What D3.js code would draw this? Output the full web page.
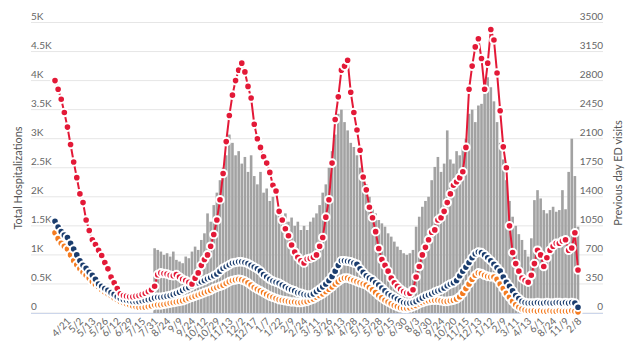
<!DOCTYPE html>
<html><head><meta charset="utf-8">
<script src="https://cdn.jsdelivr.net/npm/d3@7"></script>
<style>body{margin:0;background:#fff}svg{display:block;font-family:Lato,'Open Sans',sans-serif}</style>
</head><body><svg id="c" width="640" height="357"></svg>
<script>
const tickLabels = ["4/21","5/2","5/13","5/26","6/12","6/29","7/15","7/31","8/24","9/9","9/24","10/12","10/29","11/13","12/2","12/17","1/7","1/22","2/9","2/24","3/11","3/26","4/13","4/28","5/13","5/28","6/15","6/30","8/3","8/30","9/24","10/20","11/15","12/13","1/12","2/9","3/11","4/13","6/1","8/24","11/9","2/8"];
const ticksEvery = 4;

const hospTotal = [4000,3850,3680,3450,3200,2900,2600,2330,2050,1900,
1600,1420,1260,1180,1080,990,870,760,620,520,
420,330,300,290,280,280,290,300,320,340,
370,400,460,660,690,680,670,650,640,660,
620,580,560,530,500,600,690,820,920,1000,
1150,1350,1600,1950,2400,2950,3400,3750,4000,4180,
4300,4150,3900,3700,3250,3000,2850,2690,2580,2420,
2200,2100,1750,1600,1450,1330,1170,1050,960,900,
860,930,940,960,1000,1150,1300,1650,1950,2580,
3330,3720,4180,4250,4350,3800,3450,3150,2800,2340,
2120,1820,1640,1400,1110,920,820,720,600,520,
460,410,370,345,340,400,620,800,1000,1130,
1260,1390,1430,1600,1640,1750,1900,2050,2200,2260,
2330,2430,2850,3850,4250,4580,4720,4380,3850,4300,
4880,4700,4130,3480,2860,2500,1500,1040,850,720,
600,560,530,650,850,1080,1000,800,950,1080,
1150,1200,1200,1240,1260,1080,1120,1380,740];

const hospNavy = [1580,1480,1400,1340,1300,1200,1100,1000,900,820,
770,700,650,580,500,460,420,390,350,320,
280,250,230,220,210,200,200,200,210,220,
230,240,260,270,270,280,290,300,320,340,
360,390,420,440,470,500,520,540,560,590,
610,640,670,720,770,800,830,860,870,880,
880,870,850,820,790,760,720,660,620,580,
550,530,510,480,450,420,400,380,350,340,
320,310,310,330,370,410,450,500,560,630,
720,820,900,900,890,880,860,840,760,700,
640,600,570,520,480,430,380,330,300,270,
240,210,180,170,170,180,200,230,260,290,
310,330,360,380,400,430,470,500,520,560,
640,720,790,870,950,1020,1050,1040,1000,950,
900,840,780,720,620,530,460,380,300,250,
200,180,170,170,170,180,170,170,180,170,
170,180,180,170,180,170,180,170,100];

const hospOrange = [1380,1280,1200,1150,1100,1000,900,830,760,700,
650,600,540,490,450,400,360,330,300,260,
230,200,180,160,140,120,110,100,100,100,
110,120,140,140,140,150,160,170,180,190,
200,210,230,250,270,290,310,330,350,370,
390,420,440,460,480,510,540,560,570,580,
570,550,520,480,440,410,380,350,320,290,
270,250,230,220,210,200,190,190,180,180,
190,200,220,240,270,300,330,370,410,450,
500,540,580,600,600,580,560,540,520,500,
480,440,400,350,300,260,220,190,160,130,
110,90,80,80,90,110,130,160,180,200,
210,220,220,220,210,200,200,210,220,240,
280,340,420,500,580,650,690,680,650,630,
620,620,580,500,420,340,270,200,140,100,
70,50,40,40,40,30,40,30,30,40,
30,30,40,30,30,30,40,30,20];

const edVisits = [null,null,null,null,null,null,null,null,null,null,
null,null,null,null,null,null,null,null,null,null,
null,null,null,null,null,null,null,null,null,null,
null,null,780,760,740,700,720,680,740,640,
620,600,680,660,740,800,760,880,960,1200,
1100,1300,1450,1600,1750,1900,2150,2050,1900,1950,
1800,1880,1700,1900,1650,1550,1700,1450,1500,1350,
1400,1250,1200,1150,1200,1100,1150,1050,1100,1000,
1050,1000,1100,1150,1200,1300,1450,1550,1750,1950,
2150,2400,2450,2300,2200,2050,2000,1900,1750,1650,
1550,1400,1300,1200,1120,1080,1040,960,920,860,
800,760,720,700,720,760,1040,1160,1280,1350,
1400,1600,1760,1880,1700,1800,2200,1850,1800,1950,
1900,2000,2100,2400,2450,2300,2500,2520,2750,2840,
2720,2550,2300,2050,1850,1600,1350,1160,1050,950,
880,760,680,900,1360,1480,1380,1240,1200,1240,
1280,1220,1240,1480,1250,1700,2100,1650,1040];

const leftTicks = [0,500,1000,1500,2000,2500,3000,3500,4000,4500,5000];
const rightTicks = [0,350,700,1050,1400,1750,2100,2450,2800,3150,3500];

const colors = {total:"#e31937", navy:"#1b3d6e", orange:"#f47b20", bar:"#a2a2a2"};

const svg = d3.select("#c");
const n = hospTotal.length;
const x = d3.scaleLinear().domain([0, n-1]).range([55, 578]);
const yL = d3.scaleLinear().domain([0,5000]).range([313,22.5]);
const yR = d3.scaleLinear().domain([0,3500]).range([313,22.5]);

// grid
svg.append("g").selectAll("line").data(leftTicks).join("line")
  .attr("x1",31).attr("x2",603).attr("y1",d=>yL(d)).attr("y2",d=>yL(d))
  .attr("stroke","#e6e6e6").attr("stroke-width",1);
svg.append("g").selectAll("text").data(leftTicks).join("text")
  .attr("x",31).attr("y",d=>yL(d)-3).attr("font-size",10).attr("fill","#666")
  .text(d=> d===0 ? "0" : (d/1000)+"K");
svg.append("g").selectAll("text").data(rightTicks).join("text")
  .attr("x",603).attr("y",d=>yR(d)-3).attr("font-size",10).attr("fill","#666")
  .attr("text-anchor","end").text(d=>d);

// bars
const step = x(1)-x(0);
const bw = step-0.5;
svg.append("g").selectAll("rect").data(edVisits.map((v,i)=>({v,i})).filter(d=>d.v!=null)).join("rect")
  .attr("x",d=>x(d.i)-bw/2).attr("width",bw)
  .attr("y",d=>yR(d.v)).attr("height",d=>yR(0)-yR(d.v))
  .attr("fill",colors.bar);

// x axis line
svg.append("line").attr("x1",31).attr("x2",603).attr("y1",313.5).attr("y2",313.5).attr("stroke","#ccd6eb");

// series
function drawSeries(data, color){
  const g = svg.append("g");
  const line = d3.line().x((d,i)=>x(i)).y(d=>yL(d));
  g.append("path").attr("d",line(data)).attr("fill","none").attr("stroke",color).attr("stroke-width",2);
  g.selectAll("circle").data(data).join("circle")
    .attr("cx",(d,i)=>x(i)).attr("cy",d=>yL(d)).attr("r",3.8)
    .attr("fill",color).attr("stroke","#fff").attr("stroke-width",2);
}
drawSeries(hospOrange, colors.orange);
drawSeries(hospNavy, colors.navy);
drawSeries(hospTotal, colors.total);

// x labels
const tickIdx = tickLabels.map((t,j)=>(j+1)*ticksEvery);
svg.append("g").selectAll("text").data(tickLabels).join("text")
  .attr("transform",(d,j)=>`translate(${x(tickIdx[j])+4},322) rotate(-45)`)
  .attr("text-anchor","end").attr("font-size",10).attr("fill","#666").text(d=>d);

// axis titles
svg.append("text").attr("transform","translate(22,178) rotate(-90)").attr("text-anchor","middle")
  .attr("font-size",11).attr("fill","#555").text("Total Hospitalizations");
svg.append("text").attr("transform","translate(622,173) rotate(-90)").attr("text-anchor","middle")
  .attr("font-size",11).attr("fill","#555").text("Previous day ED visits");
</script></body></html>
